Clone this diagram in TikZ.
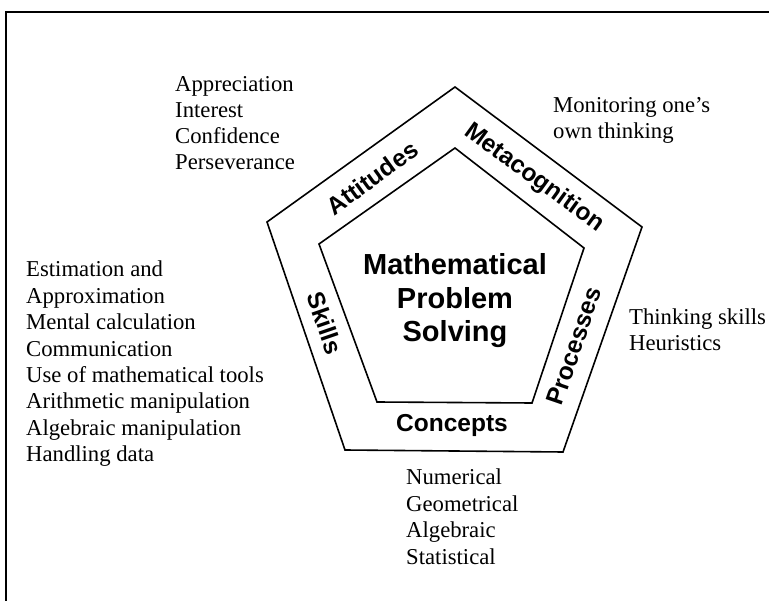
\documentclass[tikz,border=0pt]{standalone}
\usepackage{fontspec}
\setmainfont{Liberation Serif}
\setsansfont{Liberation Sans}
\begin{document}
\begin{tikzpicture}[x=1pt,y=-1pt,
    item/.style = {anchor=base west, inner sep=0pt, font=\fontsize{22.7}{26.4}\selectfont},
    band/.style = {inner sep=0pt, font=\sffamily\bfseries\fontsize{24.5}{29}\selectfont},
    core/.style = {inner sep=0pt, align=center, font=\sffamily\bfseries\fontsize{29}{33.5}\selectfont},
    pent/.style = {line width=1.6pt, line join=miter}
  ]
  \useasboundingbox (0,0) rectangle (769,601);
  \draw[line width=1.3pt] (6,601) -- (6,12) -- (769,12); % page frame

  % outer and inner pentagon
  \coordinate (o1) at (455,87);
  \coordinate (o2) at (642,227);
  \coordinate (o3) at (563,452);
  \coordinate (o4) at (345,450);
  \coordinate (o5) at (267,222);
  \coordinate (i1) at (455,148);
  \coordinate (i2) at (584,248);
  \coordinate (i3) at (532,403);
  \coordinate (i4) at (377,402);
  \coordinate (i5) at (319,244);
  \draw[pent] (o1) -- (o2) -- (o3) -- (o4) -- (o5) -- cycle;
  \draw[pent] (i1) -- (i2) -- (i3) -- (i4) -- (i5) -- cycle;

  \node[core, anchor=base] (mps) at (455,342) {Mathematical\\Problem\\Solving};

  % labels in the band
  \node[band, rotate=36] (att) at (372,178) {Attitudes};
  \node[band, rotate=-36] (meta) at (534,178) {Metacognition};
  \node[band, rotate=-71] (skl) at (325,323) {Skills};
  \node[band, rotate=71] (proc) at (574,346) {Processes};
  \node[band] (conc) at (452,425) {Concepts};

  % lists outside
  \foreach \t [count=\i] in {Appreciation, Interest, Confidence, Perseverance}
    \node[item] (attL\i) at (175,66+26*\i) {\t};
  \foreach \t [count=\i] in {Monitoring one’s, own thinking}
    \node[item] (metaL\i) at (553,87+26*\i) {\t};
  \foreach \t [count=\i] in {Thinking skills, Heuristics}
    \node[item] (procL\i) at (629,299+26*\i) {\t};
  \foreach \t [count=\i] in {Numerical, Geometrical, Algebraic, Statistical}
    \node[item] (concL\i) at (406,458.6+26.4*\i) {\t};
  \foreach \t [count=\i] in {Estimation and, Approximation, Mental calculation,
      Communication, Use of mathematical tools, Arithmetic manipulation,
      Algebraic manipulation, Handling data}
    \node[item] (sklL\i) at (26,250.6+26.4*\i) {\t};
\end{tikzpicture}
\end{document}
